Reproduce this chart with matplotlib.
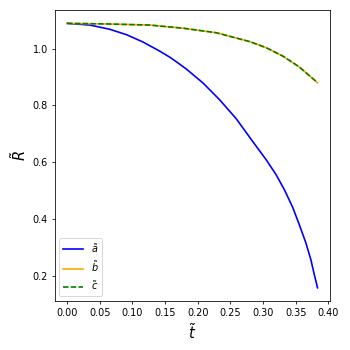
import numpy as np
import matplotlib
matplotlib.use("Agg")
import matplotlib.pyplot as plt

# values
t_a = [0.0, 0.035, 0.0656, 0.091, 0.1164, 0.1418, 0.157, 0.167, 0.1825, 0.2079,
       0.2333, 0.2588, 0.284, 0.3045, 0.3198, 0.3325, 0.3452, 0.3553, 0.3655,
       0.3731, 0.3782, 0.3833]
R_a = [1.089, 1.083, 1.068, 1.049, 1.023, 0.991, 0.970, 0.954, 0.928, 0.879,
       0.820, 0.753, 0.673, 0.609, 0.556, 0.503, 0.441, 0.380, 0.315,
       0.256, 0.205, 0.157]

t_bc = [0.0, 0.06, 0.1266, 0.1774, 0.2283, 0.2791, 0.3045, 0.3299, 0.3553, 0.3833]
R_b = [1.089, 1.087, 1.083, 1.072, 1.056, 1.025, 1.0035, 0.974, 0.9355, 0.880]
R_c = [1.089, 1.087, 1.083, 1.072, 1.056, 1.025, 1.0035, 0.974, 0.9355, 0.880]

fig = plt.figure(figsize=(5, 5), dpi=70)
ax = fig.add_subplot(111)
fig.subplots_adjust(left=0.156, right=0.943, bottom=0.14, top=0.971)

ax.plot(t_a, R_a, color="blue", lw=1.7, label=r"$\tilde{a}$")
ax.plot(t_bc, R_b, color="orange", lw=1.7, label=r"$\tilde{b}$")
ax.plot(t_bc, R_c, color="green", lw=1.7, linestyle="--", dashes=(3.3, 1.4), label=r"$\tilde{c}$")

ax.set_xlabel(r"$\tilde{t}$", fontsize=15)
ax.set_ylabel(r"$\tilde{R}$", fontsize=15)
ax.set_xticks(np.arange(0, 0.41, 0.05))
ax.legend(loc="lower left")

plt.savefig("out.png")
plt.close()
